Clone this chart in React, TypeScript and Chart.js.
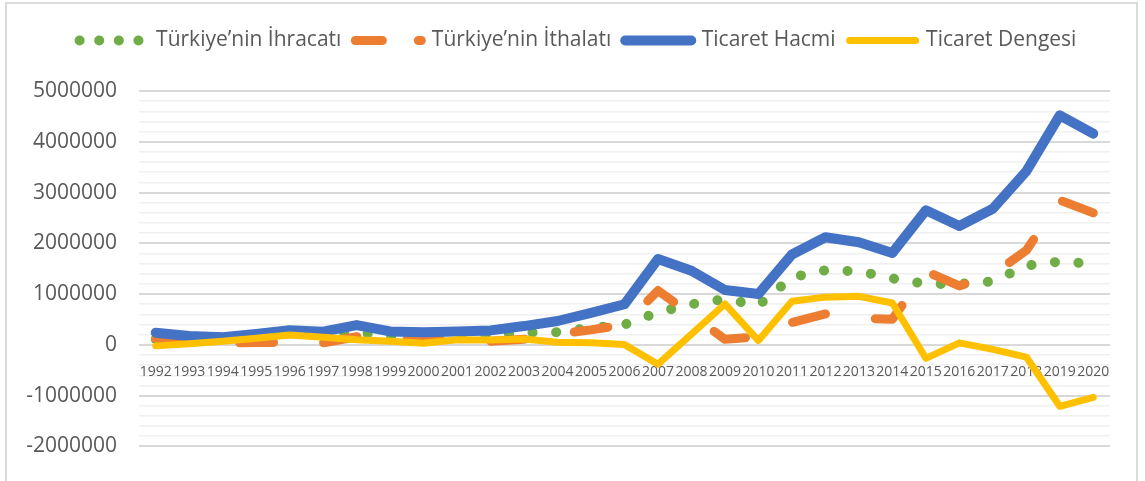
import React, { useEffect, useRef } from 'react';
import { Chart, registerables } from 'chart.js';

Chart.register(...registerables);

const years = [
  '1992', '1993', '1994', '1995', '1996', '1997', '1998', '1999', '2000', '2001',
  '2002', '2003', '2004', '2005', '2006', '2007', '2008', '2009', '2010', '2011',
  '2012', '2013', '2014', '2015', '2016', '2017', '2018', '2019', '2020',
];

const seriesNames = ['Türkiye’nin İhracatı', 'Türkiye’nin İthalatı', 'Ticaret Hacmi', 'Ticaret Dengesi'];

const exportsData = [
  110000, 100000, 110000, 170000, 240000, 205000, 245000, 170000, 140000, 180000,
  190000, 240000, 250000, 335000, 400000, 640000, 800000, 900000, 780000, 1330000,
  1470000, 1450000, 1310000, 1200000, 1200000, 1250000, 1560000, 1640000, 1600000,
];

const importsData = [
  130000, 80000, 40000, 45000, 50000, 40000, 160000, 95000, 110000, 80000,
  70000, 110000, 210000, 295000, 400000, 1070000, 590000, 110000, 160000, 440000,
  610000, 525000, 505000, 1450000, 1160000, 1390000, 1860000, 2850000, 2600000,
];

const volumeData = [
  240000, 175000, 150000, 215000, 290000, 260000, 390000, 265000, 250000, 265000,
  285000, 370000, 470000, 630000, 800000, 1690000, 1460000, 1080000, 1000000, 1780000,
  2120000, 2020000, 1810000, 2650000, 2340000, 2680000, 3420000, 4520000, 4160000,
];

const balanceData = [
  -20000, 20000, 70000, 130000, 195000, 150000, 100000, 70000, 30000, 100000,
  95000, 115000, 50000, 40000, 5000, -380000, 210000, 805000, 85000, 860000,
  940000, 955000, 825000, -265000, 40000, -90000, -240000, -1210000, -1035000,
];

const yMin = -2000000;
const yMax = 5000000;
const yMinorStep = 200000;
const yMajorStep = 1000000;

const FONT = 'Open Sans';
const TEXT = '#595959';

const legendGap = {
  id: 'legendGap',
  afterInit(chart: any) {
    const lg = chart.legend;
    if (!lg) return;
    const orig = lg.fit;
    lg.fit = function () {
      orig.call(this);
      this.height += 30;
    };
  },
  afterLayout(chart: any) {
    const lg = chart.legend;
    if (!lg) return;
    lg.left += 23;
    lg.right += 23;
  },
};

export default function App() {
  const ref = useRef<HTMLCanvasElement>(null);

  useEffect(() => {
    if (!ref.current) return;
    const chart = new Chart(ref.current, {
      type: 'line',
      data: {
        labels: years,
        datasets: [
          {
            label: seriesNames[0],
            data: exportsData,
            borderColor: '#70AD47',
            backgroundColor: '#70AD47',
            borderWidth: 10,
            borderDash: [0.1, 23.5],
            borderCapStyle: 'round',
            borderJoinStyle: 'round',
            pointRadius: 0,
            fill: false,
            tension: 0,
            order: 4,
          },
          {
            label: seriesNames[1],
            data: importsData,
            borderColor: '#ED7D31',
            backgroundColor: '#ED7D31',
            borderWidth: 9,
            borderDash: [34, 50],
            borderCapStyle: 'round',
            borderJoinStyle: 'round',
            pointRadius: 0,
            fill: false,
            tension: 0,
            order: 3,
          },
          {
            label: seriesNames[2],
            data: volumeData,
            borderColor: '#4472C4',
            backgroundColor: '#4472C4',
            borderWidth: 10,
            borderCapStyle: 'round',
            borderJoinStyle: 'round',
            pointRadius: 0,
            fill: false,
            tension: 0,
            order: 2,
          },
          {
            label: seriesNames[3],
            data: balanceData,
            borderColor: '#FFC000',
            backgroundColor: '#FFC000',
            borderWidth: 7,
            borderCapStyle: 'round',
            borderJoinStyle: 'round',
            pointRadius: 0,
            fill: false,
            tension: 0,
            order: 1,
          },
        ],
      },
      options: {
        responsive: false,
        animation: false,
        events: [],
        layout: { padding: { left: 0, right: 35, top: 16, bottom: 28 } },
        plugins: {
          tooltip: { enabled: false },
          legend: {
            display: true,
            position: 'top',
            labels: {
              usePointStyle: true,
              pointStyle: 'line',
              pointStyleWidth: 66,
              boxHeight: 10,
              padding: 14,
              color: TEXT,
              font: { family: FONT, size: 21 },
              sort: (a: any, b: any) => a.datasetIndex - b.datasetIndex,
              generateLabels: (c: any) => {
                const items = Chart.defaults.plugins.legend.labels.generateLabels(c);
                items.forEach((it: any) => {
                  it.lineCap = 'round';
                  it.lineJoin = 'round';
                  if (it.datasetIndex === 0) it.lineDash = [0.1, 19.5];
                  else if (it.datasetIndex === 1) it.lineDash = [27, 36, 3, 100];
                  else it.lineDash = [];
                });
                return items;
              },
            },
          },
        },
        scales: {
          x: {
            position: { y: 0 } as any,
            offset: true,
            grid: { display: false, drawTicks: false },
            border: { display: false },
            ticks: {
              autoSkip: false,
              maxRotation: 0,
              minRotation: 0,
              padding: 19,
              color: TEXT,
              font: { family: FONT, size: 14 },
            },
            afterFit: (s: any) => {
              s.height = 0;
            },
          },
          y: {
            min: yMin,
            max: yMax,
            border: { display: false },
            grid: {
              drawTicks: false,
              color: (ctx: any) =>
                Math.abs(ctx.tick.value % yMajorStep) < 1 ? '#d9d9d9' : '#f0f0f0',
              lineWidth: (ctx: any) => (Math.abs(ctx.tick.value % yMajorStep) < 1 ? 2 : 1.5),
            },
            ticks: {
              stepSize: yMinorStep,
              autoSkip: false,
              maxTicksLimit: 100,
              padding: 22,
              color: TEXT,
              font: { family: FONT, size: 21 },
              callback: (v: any) => (Math.abs(Number(v) % yMajorStep) < 1 ? String(v) : ''),
            },
            afterFit: (s: any) => {
              s.width = 139;
            },
          },
        },
      },
      plugins: [legendGap],
    } as any);
    return () => chart.destroy();
  }, []);

  return (
    <div style={{ position: 'absolute', left: 0, top: 0, width: 1145, height: 481, overflow: 'hidden', background: '#fff' }}>
      <div
        style={{
          position: 'absolute',
          left: 5,
          top: 2,
          width: 1133,
          height: 520,
          border: '2px solid #dadada',
          boxSizing: 'border-box',
        }}
      />
      <canvas ref={ref} width={1145} height={481} style={{ position: 'absolute', left: 0, top: 0, width: 1145, height: 481 }} />
    </div>
  );
}
